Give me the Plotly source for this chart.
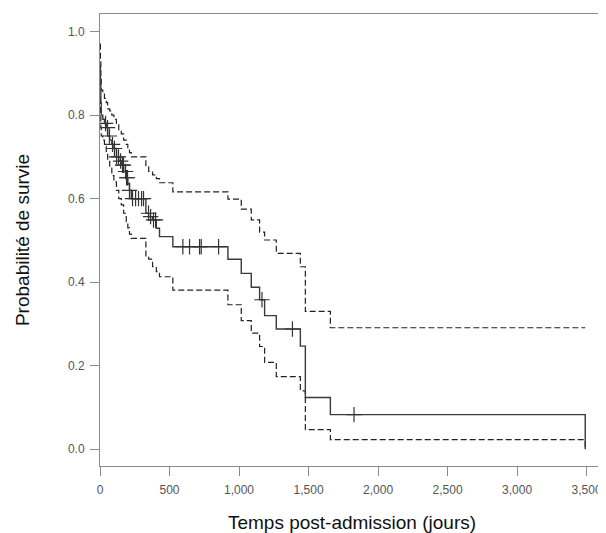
import numpy as np
import plotly.graph_objects as go

# Kaplan-Meier step data (time in days, survival, 95% CI)
times = [0, 3, 6, 9, 20, 32, 45, 55, 70, 85, 100, 118, 135, 153, 170, 189, 200, 212, 225,
         330, 350, 378, 405, 428, 524, 920, 1016, 1088, 1148, 1184, 1268, 1441, 1477, 1657, 3490]
surv = [0.92, 0.87, 0.83, 0.80, 0.79, 0.78, 0.77, 0.75, 0.74, 0.73, 0.72, 0.70, 0.69, 0.68,
        0.665, 0.65, 0.635, 0.62, 0.60, 0.565, 0.557, 0.549, 0.529, 0.509, 0.485, 0.455,
        0.421, 0.388, 0.358, 0.32, 0.288, 0.247, 0.124, 0.083, 0.0]
upper = [0.97, 0.93, 0.89, 0.86, 0.85, 0.84, 0.83, 0.815, 0.81, 0.80, 0.79, 0.78, 0.765,
         0.755, 0.74, 0.73, 0.716, 0.71, 0.70, 0.676, 0.665, 0.657, 0.648, 0.638, 0.616,
         0.599, 0.575, 0.549, 0.52, 0.501, 0.469, 0.437, 0.33, 0.291, 0.291]
lower = [0.84, 0.80, 0.77, 0.75, 0.74, 0.725, 0.71, 0.693, 0.675, 0.655, 0.64, 0.62, 0.60,
         0.585, 0.565, 0.545, 0.53, 0.515, 0.505, 0.461, 0.455, 0.437, 0.425, 0.413, 0.381,
         0.346, 0.308, 0.278, 0.246, 0.208, 0.174, 0.14, 0.047, 0.023, 0.0]
censor_times = [40, 54, 68, 90, 104, 119, 133, 148, 162, 169, 184, 191, 198, 212, 234, 256,
                277, 299, 313, 349, 364, 385, 400, 596, 644, 716, 728, 853, 1165, 1384, 1827]

x_ticks = [0, 500, 1000, 1500, 2000, 2500, 3000, 3500]
y_ticks = [0.0, 0.2, 0.4, 0.6, 0.8, 1.0]

t_arr = np.array(times)
s_arr = np.array(surv)
idx = np.searchsorted(t_arr, np.array(censor_times), side="right") - 1
censor_surv = s_arr[idx]

fig = go.Figure()
dash_style = dict(color="#222222", width=1.2, dash="6px,3px", shape="hv")
fig.add_trace(go.Scatter(x=times, y=upper, mode="lines", line=dash_style, hoverinfo="skip"))
fig.add_trace(go.Scatter(x=times, y=lower, mode="lines", line=dash_style, hoverinfo="skip"))
fig.add_trace(go.Scatter(x=times, y=surv, mode="lines",
                         line=dict(color="#3a3a3a", width=1.4, shape="hv")))
fig.add_trace(go.Scatter(x=censor_times, y=censor_surv, mode="markers",
                         marker=dict(symbol="cross-thin-open", size=11, color="#333333",
                                     line=dict(color="#333333", width=1.2))))

axis_common = dict(showgrid=False, zeroline=False, showline=True, mirror=True,
                   linecolor="#8a8a8a", linewidth=1, ticks="outside", ticklen=9,
                   tickcolor="#8a8a8a", tickwidth=1, automargin=False,
                   tickfont=dict(family="Liberation Sans, Arial", size=12, color="#555555"))

# the page body adds an 8px offset, so the figure is sized to fit the window
fig.update_layout(
    width=598, height=525,
    margin=dict(l=92, r=2, t=6, b=67),
    paper_bgcolor="white", plot_bgcolor="white",
    showlegend=False,
    xaxis=dict(range=[0, 3625], tickvals=x_ticks, tickformat=",d", ticklabelstandoff=4,
               title=dict(text="Temps post-admission (jours)", standoff=19,
                          font=dict(family="Liberation Sans, Arial", size=19, color="#111111")),
               **axis_common),
    yaxis=dict(range=[-0.04, 1.042], tickvals=y_ticks, tickformat=".1f", ticklabelstandoff=3,
               title=dict(text="Probabilité de survie", standoff=33,
                          font=dict(family="Liberation Sans, Arial", size=19, color="#111111")),
               **axis_common),
)

fig.write_html("out.html")
